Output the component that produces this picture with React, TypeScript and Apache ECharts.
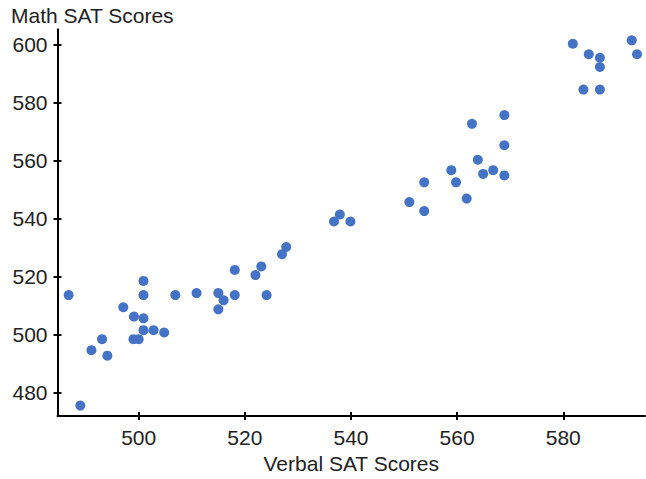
import React, { useEffect, useRef } from "react";
import * as echarts from "echarts";

const verbal = [
  486.8, 489.0, 491.1, 493.1, 494.1, 497.1, 499.1, 499.0, 500.0, 500.9, 500.9, 500.9, 500.9,
  502.8, 504.8, 506.9, 510.9, 515.0, 515.0, 516.0, 518.1, 518.1, 522.0, 523.1, 524.1, 527.0, 527.8,
  536.8, 537.9, 539.9, 551.0, 553.8, 553.8, 558.9, 559.8, 561.8, 562.8, 563.9, 564.9, 566.8,
  568.9, 568.9, 568.9, 581.8, 584.8, 586.9, 586.9, 583.8, 586.9, 592.9, 593.9,
];
const math = [
  513.7, 475.6, 494.7, 498.5, 492.8, 509.5, 506.3, 498.5, 498.5, 518.6, 513.7, 505.7, 501.6,
  501.6, 500.8, 513.7, 514.4, 514.4, 508.8, 511.9, 522.4, 513.7, 520.6, 523.6, 513.7, 527.8, 530.3,
  539.1, 541.5, 539.1, 545.8, 552.6, 542.7, 556.8, 552.6, 547.0, 572.8, 560.4, 555.5, 556.8,
  575.8, 565.4, 555.0, 600.4, 596.8, 595.6, 592.4, 584.6, 584.6, 601.6, 596.8,
];
const xTicks = [500, 520, 540, 560, 580];
const yTicks = [480, 500, 520, 540, 560, 580, 600];
const xTitle = "Verbal SAT Scores";
const yTitle = "Math SAT Scores";

const FONT = "'Liberation Sans', Arial, sans-serif";
const TEXT = "#222222";

export default function App() {
  const ref = useRef<HTMLDivElement>(null);
  useEffect(() => {
    if (!ref.current) return;
    const chart = echarts.init(ref.current, undefined, { renderer: "svg" });
    const xRange = { min: 484.7, max: 595.4 };
    const yRange = { min: 472.0, max: 605.4 };
    const baseX = {
      type: "value",
      ...xRange,
      position: "bottom",
      splitLine: { show: false },
    };
    const baseY = {
      type: "value",
      ...yRange,
      position: "left",
      splitLine: { show: false },
    };
    chart.setOption({
      animation: false,
      backgroundColor: "#ffffff",
      textStyle: { fontFamily: FONT },
      grid: { left: 57.5, right: 1, top: 29.3, bottom: 61.3, containLabel: false },
      xAxis: [
        {
          ...baseX,
          name: xTitle,
          nameLocation: "middle",
          nameGap: 37,
          nameTextStyle: { fontFamily: FONT, fontSize: 21, color: TEXT },
          axisLine: { onZero: false, lineStyle: { color: "#000", width: 2 } },
          axisTick: { show: true, inside: false, length: 4, customValues: xTicks, lineStyle: { color: "#000", width: 2 } },
          axisLabel: { show: true, customValues: xTicks, fontFamily: FONT, fontSize: 21, color: TEXT, margin: 11 },
        },
        {
          ...baseX,
          axisLine: { show: false, onZero: false },
          axisTick: { show: true, inside: true, length: 4, customValues: xTicks, lineStyle: { color: "#000", width: 2 } },
          axisLabel: { show: false },
        },
      ],
      yAxis: [
        {
          ...baseY,
          axisLine: { onZero: false, lineStyle: { color: "#000", width: 2 } },
          axisTick: { show: true, inside: false, length: 4, customValues: yTicks, lineStyle: { color: "#000", width: 2 } },
          axisLabel: { show: true, customValues: yTicks, fontFamily: FONT, fontSize: 21, color: TEXT, margin: 10 },
        },
        {
          ...baseY,
          axisLine: { show: false, onZero: false },
          axisTick: { show: true, inside: true, length: 4, customValues: yTicks, lineStyle: { color: "#000", width: 2 } },
          axisLabel: { show: false },
        },
      ],
      graphic: [
        {
          type: "text",
          left: 11,
          top: 5,
          style: { text: yTitle, font: `21px ${FONT}`, fill: TEXT },
        },
      ],
      series: [
        {
          type: "scatter",
          xAxisIndex: 0,
          yAxisIndex: 0,
          symbol: "circle",
          symbolSize: 10,
          itemStyle: { color: "#4472C4", opacity: 1 },
          data: verbal.map((v, i) => [v, math[i]]),
        },
      ],
    });
    return () => chart.dispose();
  }, []);
  return (
    <div
      ref={ref}
      style={{ position: "fixed", left: 0, top: 0, width: 646, height: 479, background: "#fff" }}
    />
  );
}
